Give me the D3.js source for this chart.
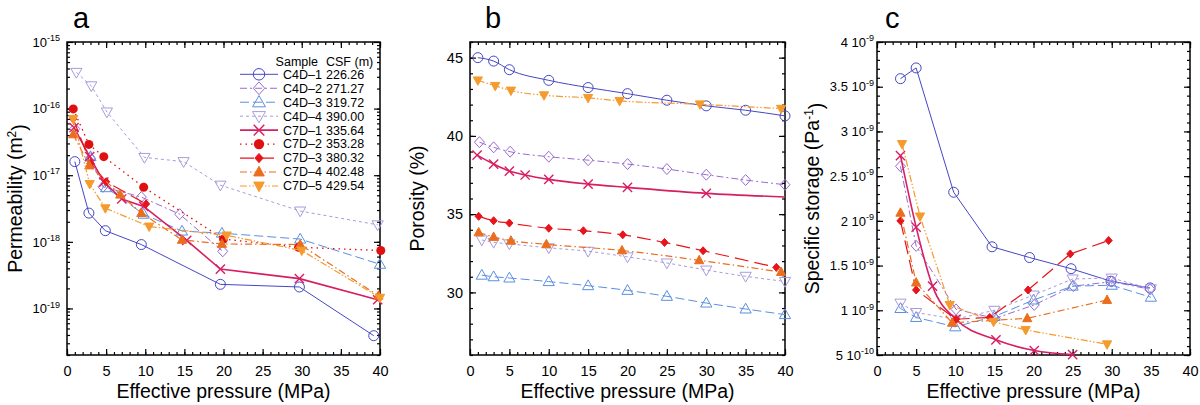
<!DOCTYPE html>
<html><head><meta charset="utf-8">
<script src="https://cdn.jsdelivr.net/npm/d3@7"></script>
<style>
body{margin:0;background:#fff;}
text{font-family:"Liberation Sans",Arial,Helvetica,sans-serif;fill:#000;}
</style>
</head><body>
<svg id="chart" width="1200" height="405"></svg>
<script>
// ---------------- data ----------------
const sampleNames = ["C4D\u20131","C4D\u20132","C4D\u20133","C4D\u20134","C7D\u20131","C7D\u20132","C7D\u20133","C7D\u20134","C7D\u20135"];
const sampleDepths = ["226.26","271.27","319.72","390.00","335.64","353.28","380.32","402.48","429.54"];
const pressureTicks = [0,5,10,15,20,25,30,35,40];
const permTickExponents = [-15,-16,-17,-18,-19];
const porosityTicks = [30,35,40,45];
const storageTicks = [5e-10,1e-9,1.5e-9,2e-9,2.5e-9,3e-9,3.5e-9,4e-9];
const storageTickMantissa = ["5","1","1.5","2","2.5","3","3.5","4"];
const storageTickExponent = ["-10","-9","-9","-9","-9","-9","-9","-9"];

// (a) permeability, m^2  [effective pressure MPa, value]
const permC4D1 = [[1,1.6e-17],[2.8,2.7e-18],[4.9,1.47e-18],[9.5,9.1e-19],[19.6,2.3e-19],[29.7,2.1e-19],[39.2,3.9e-20]];
const permC4D2 = [[1,5e-17],[3,1.8e-17],[4.6,6.7e-18],[9.5,4.7e-18],[14.4,2.6e-18],[19.9,7.2e-19]];
const permC4D3 = [[3,1.9e-17],[5,6.5e-18],[9.8,2.6e-18],[14.7,1.45e-18],[19.8,1.35e-18],[29.8,1.1e-18],[40,4.6e-19]];
const permC4D4 = [[1.2,3.5e-16],[3.1,2.2e-16],[5.1,8.9e-17],[9.9,1.85e-17],[14.9,1.6e-17],[19.6,7.1e-18],[29.8,2.9e-18],[39.7,1.8e-18]];
const permC7D1 = [[0.9,5.2e-17],[2.9,1.9e-17],[4.7,7.9e-18],[7,4.4e-18],[9.8,3.4e-18],[15.3,1.05e-18],[19.6,3.9e-19],[29.7,2.8e-19],[39.7,1.35e-19]];
const permC7D2 = [[0.8,9.9e-17],[2.8,2.9e-17],[4.7,1.9e-17],[9.8,6.6e-18],[20,1.1e-18],[29.6,8.3e-19],[40.1,7.4e-19]];
const permC7D3 = [[0.8,7e-17],[3,1.5e-17],[5,8e-18],[10.1,3.7e-18]];
const permC7D4 = [[0.8,4.1e-17],[2.85,1.4e-17],[6.8,5.1e-18],[9.5,2.7e-18],[14.7,1.07e-18],[19.8,9.3e-19],[29.8,9.1e-19],[39.8,1.55e-19]];
const permC7D5 = [[0.8,7e-17],[2.9,7.4e-18],[4.9,3.2e-18],[10.5,1.7e-18],[20.4,1.25e-18],[30,7.4e-19],[40,1.45e-19]];

// (b) porosity, %
const porC4D1 = [[1,45.0],[3,44.78],[5,44.23],[10,43.55],[15,43.09],[20,42.7],[25,42.28],[30,41.92],[35,41.64],[40,41.28]];
const porC4D2 = [[1.2,39.6],[3,39.27],[5.1,38.99],[10,38.67],[15,38.45],[20,38.2],[25,37.88],[30,37.52],[35,37.18],[40,36.88]];
const porC4D3 = [[1.5,31.1],[3,31.0],[5,30.92],[10,30.69],[15,30.43],[20,30.13],[25,29.75],[30,29.32],[35,28.94],[40,28.58]];
const porC4D4 = [[1.5,33.35],[3,33.2],[5,33.1],[10,32.85],[15,32.63],[20,32.27],[25,31.88],[30,31.43],[35,31.03],[40,30.7]];
const porC7D1 = [[0.9,38.77],[3,38.2],[5,37.75],[7,37.5],[10,37.22],[15,36.92],[20,36.71],[30,36.33]];
const porC7D1LineEnd = [[40,36.1]];
const porC7D3 = [[1.1,34.86],[3,34.58],[5,34.43],[10,34.1],[14.4,33.94],[19.4,33.68],[24.7,33.19],[29.6,32.66],[38.9,31.6]];
const porC7D4 = [[1.1,33.83],[3,33.54],[5.2,33.3],[9.7,33.07],[19.3,32.68],[29.1,32.05],[39.5,31.3]];
const porC7D5 = [[1,43.55],[3.2,43.2],[5.2,42.9],[9.4,42.6],[15,42.43],[19,42.24],[29.2,42.02],[39.5,41.74]];

// (c) specific storage, 1/Pa
const stoC4D1 = [[3,3.59e-9],[5,3.71e-9],[9.8,2.32e-9],[14.7,1.71e-9],[19.5,1.59e-9],[24.8,1.465e-9],[29.9,1.325e-9],[34.9,1.25e-9]];
const stoC4D2 = [[3,2.61e-9],[5,1.72e-9],[10.1,1.01e-9],[15.1,0.91e-9],[20.1,1.06e-9],[25.1,1.27e-9],[30,1.32e-9],[34.9,1.235e-9]];
const stoC4D3 = [[3,1.02e-9],[5,0.92e-9],[10,0.815e-9],[15,0.93e-9],[20,1.115e-9],[25,1.27e-9],[30,1.28e-9],[35,1.146e-9]];
const stoC4D4 = [[3,1.08e-9],[5,0.975e-9],[10,0.9e-9],[15,1.0e-9],[20,1.17e-9],[25,1.35e-9],[30,1.36e-9],[35,1.24e-9]];
const stoC7D1 = [[3,2.73e-9],[5,1.93e-9],[7.1,1.27e-9],[10.1,0.9e-9],[15.2,0.67e-9],[20.1,0.55e-9],[25,0.505e-9]];
const stoC7D3 = [[3,2.0e-9],[5,1.227e-9],[10.1,0.9e-9],[14.4,0.92e-9],[19.3,1.227e-9],[24.7,1.63e-9],[29.6,1.78e-9]];
const stoC7D4 = [[3,2.09e-9],[5,1.31e-9],[9.6,0.86e-9],[19.2,0.91e-9],[29.4,1.115e-9]];
const stoC7D5 = [[3.2,2.86e-9],[5.5,2.05e-9],[9.3,1.06e-9],[14.9,0.872e-9],[19,0.78e-9],[29.4,0.62e-9]];

// ---------------- styles ----------------
const seriesStyle = [
  {color:"#4646C6", marker:"circle",   dash:null,              width:1},
  {color:"#9A6BD0", marker:"diamond",  dash:"7,3,2,3",         width:1},
  {color:"#5B8FE0", marker:"triUp",    dash:"9,4",             width:1},
  {color:"#A99BDB", marker:"triDown",  dash:"3,3",             width:1},
  {color:"#D81E62", marker:"x",        dash:null,              width:1.6},
  {color:"#E01010", marker:"dot",      dash:"1.5,4",           width:1.3},
  {color:"#E8141C", marker:"sdiamond", dash:"14,6",            width:1.2},
  {color:"#EB6E1E", marker:"triUpF",   dash:"7,3,1.5,3",       width:1.2},
  {color:"#F59B2E", marker:"triDownF", dash:"7,2,1.5,2,1.5,2", width:1.2}
];

const svg = d3.select("#chart");

function markerPath(type, k){
  switch(type){
    case "diamond": return `M0,${-5.5*k}L${5*k},0L0,${5.5*k}L${-5*k},0Z`;
    case "sdiamond": return `M0,${-4*k}L${3.6*k},0L0,${4*k}L${-3.6*k},0Z`;
    case "triUp": return `M0,${-5.8*k}L${5.6*k},${4*k}L${-5.6*k},${4*k}Z`;
    case "triDown": return `M0,${5.8*k}L${5.6*k},${-4*k}L${-5.6*k},${-4*k}Z`;
    case "triUpF": return `M0,${-5*k}L${4.6*k},${3.4*k}L${-4.6*k},${3.4*k}Z`;
    case "triDownF": return `M0,${5*k}L${4.6*k},${-3.4*k}L${-4.6*k},${-3.4*k}Z`;
    case "x": return `M${-4.6*k},${-4.6*k}L${4.6*k},${4.6*k}M${-4.6*k},${4.6*k}L${4.6*k},${-4.6*k}`;
  }
  return "";
}
function drawMarker(g, type, cx, cy, color, k){
  if(type==="circle"){
    g.append("circle").attr("cx",cx).attr("cy",cy).attr("r",5*k).attr("fill","none").attr("stroke",color).attr("stroke-width",1);
  } else if(type==="dot"){
    g.append("circle").attr("cx",cx).attr("cy",cy).attr("r",4.5*k).attr("fill",color);
  } else {
    const filled = (type==="sdiamond"||type==="triUpF"||type==="triDownF");
    g.append("path").attr("transform",`translate(${cx},${cy})`).attr("d",markerPath(type,k))
      .attr("fill",filled?color:"none").attr("stroke",color)
      .attr("stroke-width", type==="x"?1.4:1);
  }
}

function drawFrame(p, x, y, majorY, minorY, minorX){
  const g = svg.append("g");
  const fix = sel => { sel.select(".domain").remove(); sel.selectAll("line").attr("stroke","#000").attr("stroke-width",1.2); };
  g.append("g").attr("transform",`translate(0,${p.y1})`)
    .call(d3.axisBottom(x).tickValues(minorX).tickSize(-3).tickFormat("")).call(fix);
  const bx = g.append("g").attr("transform",`translate(0,${p.y1})`)
    .call(d3.axisBottom(x).tickValues(pressureTicks).tickSize(-6).tickPadding(11)).call(fix);
  bx.selectAll("text").attr("font-size","14.5px");
  g.append("g").attr("transform",`translate(0,${p.y0})`)
    .call(d3.axisTop(x).tickValues(minorX).tickSize(-3).tickFormat("")).call(fix);
  g.append("g").attr("transform",`translate(0,${p.y0})`)
    .call(d3.axisTop(x).tickValues(pressureTicks).tickSize(-6).tickFormat("")).call(fix);
  g.append("g").attr("transform",`translate(${p.x0},0)`)
    .call(d3.axisLeft(y).tickValues(minorY).tickSize(-3).tickFormat("")).call(fix);
  g.append("g").attr("transform",`translate(${p.x1},0)`)
    .call(d3.axisRight(y).tickValues(minorY).tickSize(-3).tickFormat("")).call(fix);
  g.append("g").attr("transform",`translate(${p.x1},0)`)
    .call(d3.axisRight(y).tickValues(majorY).tickSize(-6).tickFormat("")).call(fix);
  const ly = g.append("g").attr("transform",`translate(${p.x0},0)`);
  g.append("rect").attr("x",p.x0).attr("y",p.y0).attr("width",p.x1-p.x0).attr("height",p.y1-p.y0)
    .attr("fill","none").attr("stroke","#000").attr("stroke-width",1.5);
  svg.append("text").attr("x",(p.x0+p.x1)/2).attr("y",398).attr("text-anchor","middle")
    .attr("font-size","19.5px").text("Effective pressure (MPa)");
  return ly;
}

function drawSeries(x, y, data, st, curve, lineExtra){
  const g = svg.append("g");
  const line = d3.line().x(d=>x(d[0])).y(d=>y(d[1])).curve(curve||d3.curveLinear);
  const pts = lineExtra ? data.concat(lineExtra) : data;
  const path = g.append("path").attr("d",line(pts)).attr("fill","none")
    .attr("stroke",st.color).attr("stroke-width",st.width);
  if(st.dash) path.attr("stroke-dasharray",st.dash);
  data.forEach(d=>drawMarker(g, st.marker, x(d[0]), y(d[1]), st.color, 1));
}

function panelLetter(x, t){
  svg.append("text").attr("x",x).attr("y",28).attr("font-size","29px").text(t);
}
function yTitle(cx, cy, parts){
  const t = svg.append("text").attr("transform",`translate(${cx},${cy}) rotate(-90)`)
    .attr("text-anchor","middle").attr("font-size","19.5px");
  parts.forEach(pt=>{
    const ts = t.append("tspan").text(pt.t);
    if(pt.sup){ ts.attr("dy","-0.5em").attr("font-size","12px"); }
    if(pt.after){ ts.attr("dy","0.5em"); }
  });
}

// ---------------- panel a ----------------
const pa = {x0:67,x1:380,y0:42,y1:355};
const xA = d3.scaleLinear([0,40],[pa.x0,pa.x1]);
const yA = d3.scaleLog([2e-20,1e-15],[pa.y1,pa.y0]);
const majorA = permTickExponents.map(e=>Math.pow(10,e));
const minorA = [];
[-20,-19,-18,-17,-16].forEach(e=>{ for(let m=1;m<=9;m++){ const v=m*Math.pow(10,e); if(v>=2e-20&&v<=1e-15) minorA.push(v);} });
const minorX = d3.range(0,41,1);
const lyA = drawFrame(pa, xA, yA, majorA, minorA, minorX);
lyA.call(d3.axisLeft(yA).tickValues(majorA).tickSize(-6).tickPadding(7).tickFormat(()=>"10"))
  .call(s=>{s.select(".domain").remove(); s.selectAll("line").attr("stroke","#000").attr("stroke-width",1.2);});
lyA.selectAll("text").attr("font-size","13px").each(function(d,i){
  d3.select(this).append("tspan").attr("dy","-0.6em").attr("font-size","9px").text(String(permTickExponents[i]));
});
const permData = [permC4D1,permC4D2,permC4D3,permC4D4,permC7D1,permC7D2,permC7D3,permC7D4,permC7D5];
permData.forEach((d,i)=>drawSeries(xA,yA,d,seriesStyle[i]));
panelLetter(73,"a");
yTitle(22,198.5,[{t:"Permeability (m"},{t:"2",sup:true},{t:")",after:true}]);

// legend
const lg = svg.append("g").attr("font-size","12.5px");
lg.append("text").attr("x",318).attr("y",61.7).attr("dy","0.35em").attr("text-anchor","end").text("Sample");
lg.append("text").attr("x",326).attr("y",61.7).attr("dy","0.35em").text("CSF (m)");
sampleNames.forEach((n,i)=>{
  const yy = 74.3 + i*13.96, st = seriesStyle[i];
  const l = lg.append("line").attr("x1",240).attr("x2",278).attr("y1",yy).attr("y2",yy)
    .attr("stroke",st.color).attr("stroke-width",st.width);
  if(st.dash) l.attr("stroke-dasharray",st.dash);
  drawMarker(lg, st.marker, 259, yy, st.color, 1.15);
  lg.append("text").attr("x",283).attr("y",yy).attr("dy","0.35em").text(n);
  lg.append("text").attr("x",326).attr("y",yy).attr("dy","0.35em").text(sampleDepths[i]);
});

// ---------------- panel b ----------------
const pb = {x0:470,x1:785,y0:42,y1:355};
const xB = d3.scaleLinear([0,40],[pb.x0,pb.x1]);
const yB = d3.scaleLinear([26,46],[pb.y1,pb.y0]);
const lyB = drawFrame(pb, xB, yB, porosityTicks, d3.range(26,46.01,1), minorX);
lyB.call(d3.axisLeft(yB).tickValues(porosityTicks).tickSize(-6).tickPadding(7))
  .call(s=>{s.select(".domain").remove(); s.selectAll("line").attr("stroke","#000").attr("stroke-width",1.2);});
lyB.selectAll("text").attr("font-size","14.5px");
const porData = [porC4D1,porC4D2,porC4D3,porC4D4,porC7D1,null,porC7D3,porC7D4,porC7D5];
porData.forEach((d,i)=>{ if(d) drawSeries(xB,yB,d,seriesStyle[i],d3.curveMonotoneX, i===4?porC7D1LineEnd:null); });
panelLetter(485,"b");
yTitle(424,198.5,[{t:"Porosity (%)"}]);

// ---------------- panel c ----------------
const pc = {x0:877,x1:1190,y0:42,y1:355};
const xC = d3.scaleLinear([0,40],[pc.x0,pc.x1]);
const yC = d3.scaleLinear([5e-10,4e-9],[pc.y1,pc.y0]);
const lyC = drawFrame(pc, xC, yC, storageTicks, d3.range(5,40.5,1).map(v=>v*1e-10), minorX);
lyC.call(d3.axisLeft(yC).tickValues(storageTicks).tickSize(-6).tickPadding(3).tickFormat((d,i)=>storageTickMantissa[i]+" 10"))
  .call(s=>{s.select(".domain").remove(); s.selectAll("line").attr("stroke","#000").attr("stroke-width",1.2);});
lyC.selectAll("text").attr("font-size","13px").each(function(d,i){
  d3.select(this).append("tspan").attr("dy","-0.6em").attr("font-size","9px").text(storageTickExponent[i]);
});
const stoData = [stoC4D1,stoC4D2,stoC4D3,stoC4D4,stoC7D1,null,stoC7D3,stoC7D4,stoC7D5];
stoData.forEach((d,i)=>{ if(d) drawSeries(xC,yC,d,seriesStyle[i], i===4?d3.curveMonotoneX:d3.curveLinear); });
panelLetter(885,"c");
yTitle(819,198.5,[{t:"Specific storage (Pa"},{t:"-1",sup:true},{t:")",after:true}]);
</script>
</body></html>
